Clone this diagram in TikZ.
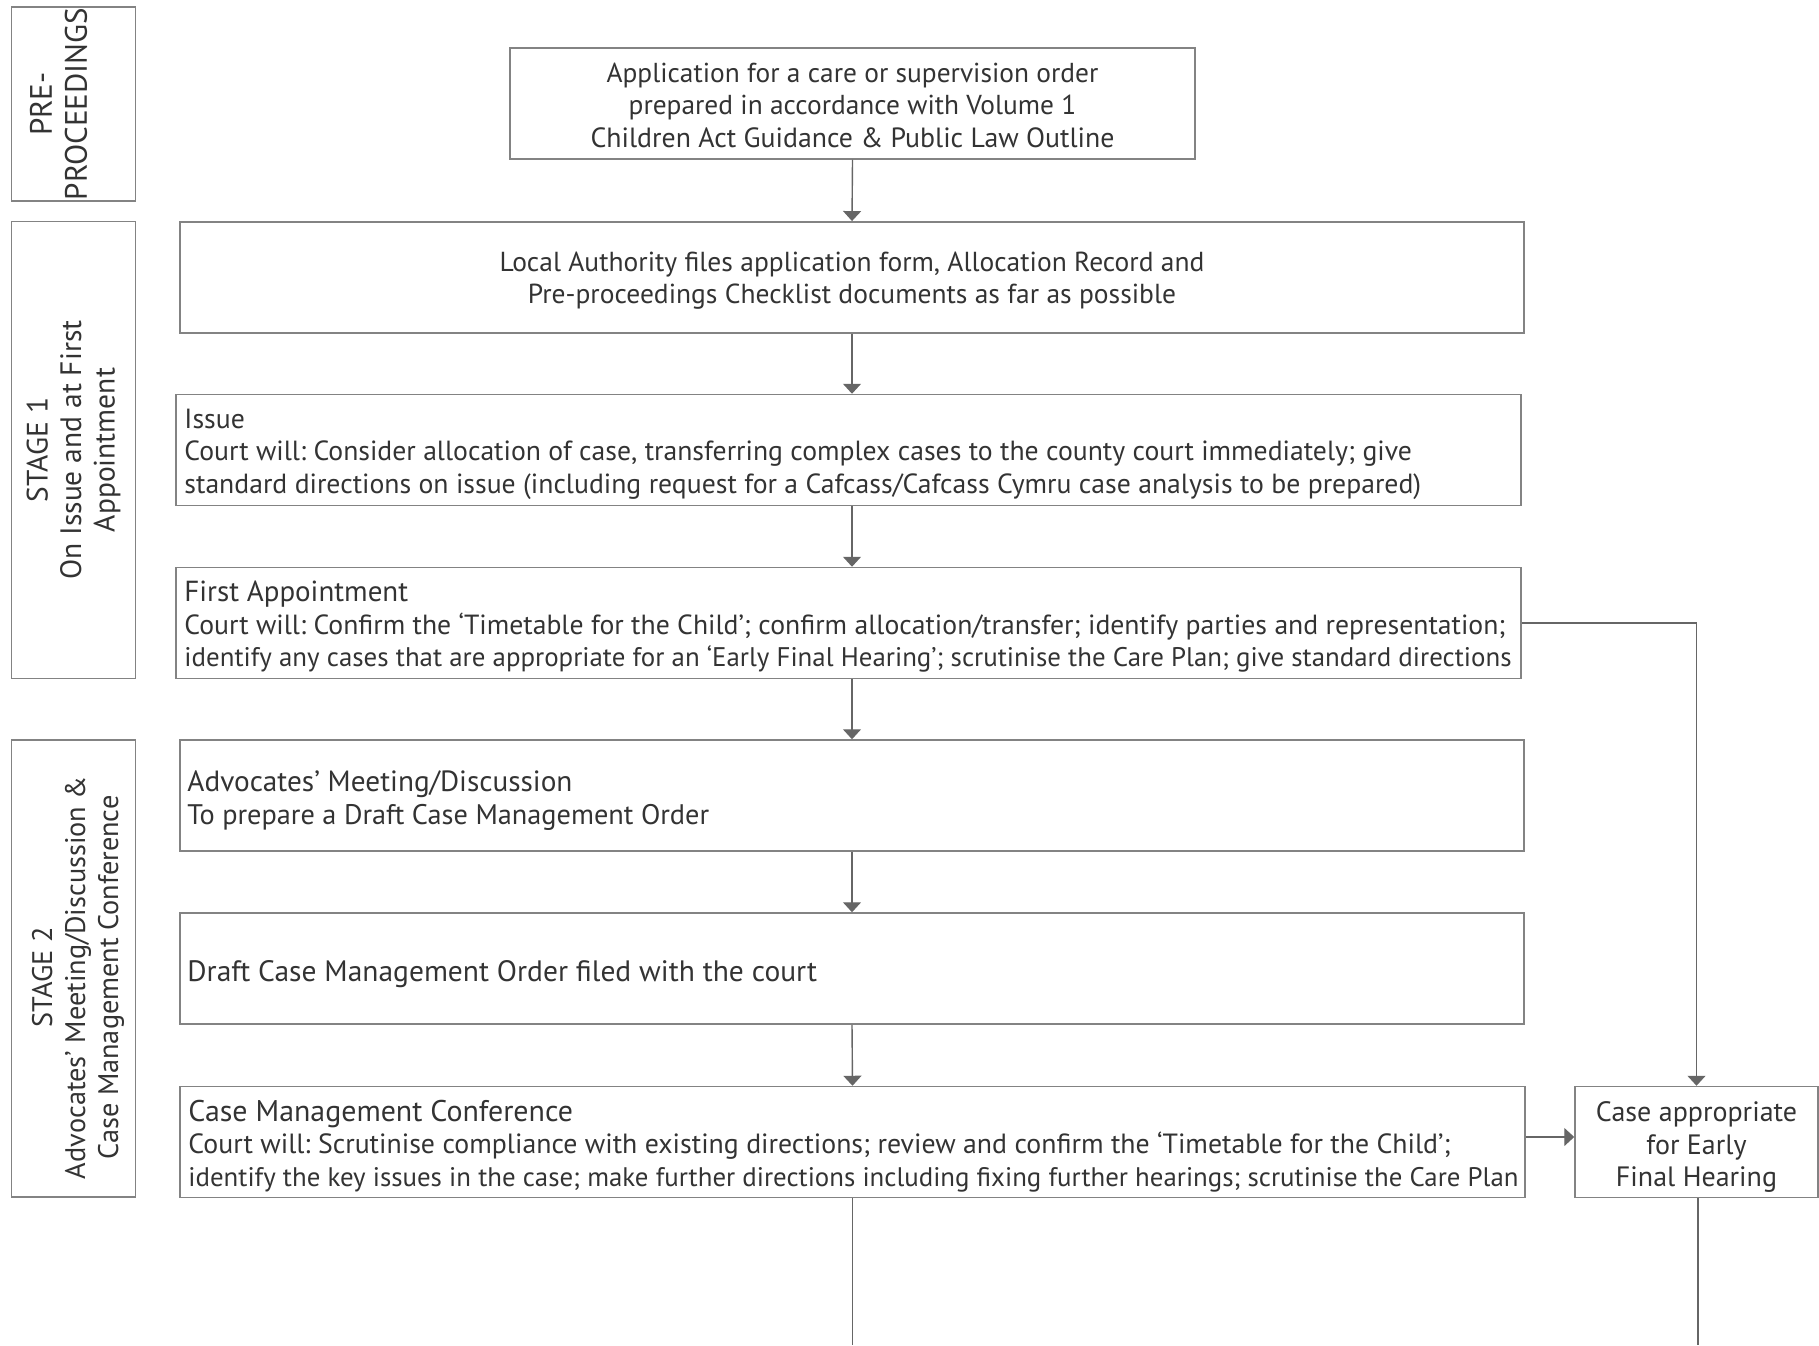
\documentclass[tikz,border=0pt]{standalone}
\usepackage{fontspec}
\setmainfont{PT Sans}
\usetikzlibrary{arrows.meta}
\definecolor{boxline}{HTML}{838383}
\definecolor{arrowline}{HTML}{666666}
\definecolor{ink}{HTML}{333333}
\newcommand{\sz}[1]{\fontsize{#1}{32.5}\selectfont}
\begin{document}
\frenchspacing
\begin{tikzpicture}[x=1pt,y=-1pt,
  every node/.style={text=ink},
  box/.style={draw=boxline, line width=1.5pt, inner sep=0pt, minimum height=111pt},
  txt/.style={inner sep=0pt},
  lefttxt/.style={txt, align=left, anchor=west},
  centretxt/.style={txt, align=center},
  stagebox/.style={draw=boxline, line width=1.5pt, inner sep=0pt, minimum width=124pt},
  stagetxt/.style={txt, rotate=90, align=center},
  flow/.style={draw=arrowline, line width=1.4pt, -{Triangle[width=18pt,length=10pt]}},
  plain/.style={draw=arrowline, line width=1.4pt}
]
\useasboundingbox (0,0) rectangle (1819,1345);

% stage labels down the left side
\node[stagebox, minimum height=194pt] (pre) at (73.6,104) {};
\node[stagetxt, font=\fontsize{31}{35}\selectfont] (pre-t) at ([xshift=-15pt]pre.center) {PRE-\\PROCEEDINGS};
\node[stagebox, minimum height=457pt] (s1) at (73.6,450) {};
\node[stagetxt, font=\fontsize{29.5}{33.5}\selectfont] (s1-t) at (s1.center) {STAGE 1\\On Issue and at First\\Appointment};
\node[stagebox, minimum height=457pt] (s2) at (73.6,968.5) {};
\node[stagetxt, font=\fontsize{28.3}{33}\selectfont] (s2-t) at ([xshift=4.5pt,yshift=-9pt]s2.center) {STAGE 2\\Advocates’ Meeting/Discussion \&\\Case Management Conference};

% main column of steps: boxes
\node[box, minimum width=685pt]  (app)   at (852.5,103.3) {};
\node[box, minimum width=1344pt] (la)    at (852,277.3) {};
\node[box, minimum width=1345pt] (issue) at (848.5,450) {};
\node[box, minimum width=1345pt] (fa)    at (848.5,623) {};
\node[box, minimum width=1344pt] (adv)   at (852,795.5) {};
\node[box, minimum width=1344pt] (draft) at (852,968.5) {};
\node[box, minimum width=1345pt] (cmc)   at (852.5,1142) {};
\node[box, minimum width=243pt]  (efh)   at (1696.5,1142) {};

% main column of steps: texts
\node[centretxt, font=\sz{27.4}] (app-t) at ([yshift=-2pt]app.center)
  {Application for a care or supervision order\\prepared in accordance with Volume 1\\{\sz{27.8}Children Act Guidance \& Public Law Outline}};
\node[centretxt, font=\sz{27.5}] (la-t) at ([yshift=-3.5pt]la.center)
  {Local Authority files application form, Allocation Record and\\Pre-proceedings Checklist documents as far as possible};
\node[lefttxt, font=\sz{27.7}] (issue-t) at ([xshift=9pt,yshift=-4pt]issue.west)
  {Issue\\Court will: Consider allocation of case, transferring complex cases to the county court immediately; give\\standard directions on issue (including request for a Cafcass/Cafcass Cymru case analysis to be prepared)};
\node[lefttxt, font=\sz{27.7}] (fa-t) at ([xshift=9pt,yshift=-4pt]fa.west)
  {{\sz{29}First Appointment}\\Court will: Confirm the ‘Timetable for the Child’; confirm allocation/transfer; identify parties and representation;\\{\sz{26.9}identify any cases that are appropriate for an ‘Early Final Hearing’; scrutinise the Care Plan; give standard directions}};
\node[lefttxt, font=\sz{29.25}] (adv-t) at ([xshift=8pt,yshift=-5pt]adv.west)
  {Advocates’ Meeting/Discussion\\{\sz{28.3}To prepare a Draft Case Management Order}};
\node[lefttxt, font=\sz{29.5}] (draft-t) at ([xshift=8pt,yshift=-6pt]draft.west)
  {Draft Case Management Order filed with the court};
\node[lefttxt, font=\sz{27.8}] (cmc-t) at ([xshift=9pt,yshift=-4pt]cmc.west)
  {{\sz{29.9}Case Management Conference}\\Court will: Scrutinise compliance with existing directions; review and confirm the ‘Timetable for the Child’;\\{\sz{26.85}identify the key issues in the case; make further directions including fixing further hearings; scrutinise the Care Plan}};
\node[centretxt, font=\sz{28}] (efh-t) at ([yshift=-5pt]efh.center)
  {Case appropriate\\for Early\\Final Hearing};

% free ends running off the bottom edge
\coordinate (mainout) at (852.6,1345);
\coordinate (efhout) at (1698,1345);

% connectors
\draw[flow] (app.south) -- (la.north);
\draw[flow] (la.south) -- (la.south |- issue.north);
\draw[flow] (la.south |- issue.south) -- (la.south |- fa.north);
\draw[flow] (la.south |- fa.south) -- (adv.north);
\draw[flow] (adv.south) -- (draft.north);
\draw[flow] (draft.south) -- (cmc.north);
\draw[flow] (fa.east) -| (efh.north);
\draw[flow] ([yshift=5pt]cmc.east) -- ([yshift=5pt]efh.west);
\draw[plain] (cmc.south -| mainout) -- (mainout);
\draw[plain] (efh.south -| efhout) -- (efhout);
\end{tikzpicture}
\end{document}
